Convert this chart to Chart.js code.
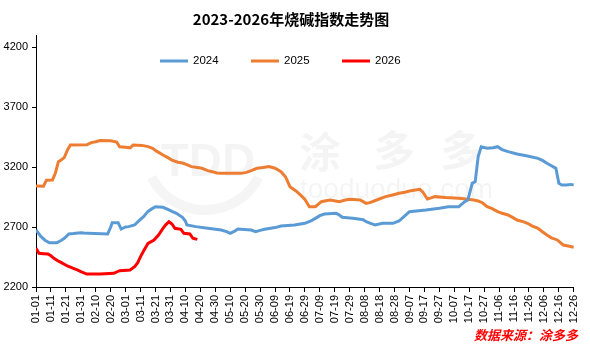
<!DOCTYPE html>
<html>
<head>
<meta charset="utf-8">
<script src="https://cdn.jsdelivr.net/npm/chart.js@4.4.1/dist/chart.umd.min.js"></script>
<style>
  body { margin: 0; background: #fff; }
  canvas { display: block; }
</style>
</head>
<body>
<canvas id="sodaChart" width="590" height="351"></canvas>
<script>
// day-of-year index (0 = 01-01) and index values
var tickLabels = ["01-01","01-11","01-21","01-31","02-10","02-20","03-01","03-11","03-21","03-31",
  "04-10","04-20","04-30","05-10","05-20","05-30","06-09","06-19","06-29","07-09","07-19","07-29",
  "08-08","08-18","08-28","09-07","09-17","09-27","10-07","10-17","10-27","11-06","11-16","11-26",
  "12-06","12-16","12-26"];

var yTicks = [2200, 2700, 3200, 3700, 4200];

var seriesNames = ["2024", "2025", "2026"];

var days2024 = [0,3,6,9,14,17,19,22,25,30,32,35,48,50,51,55,57,60,62,66,69,72,75,78,80,85,89,91,94,98,100,101,107,115,124,128,130,133,135,144,147,150,153,160,164,173,180,184,187,190,193,201,203,205,212,217,219,221,224,227,232,239,243,245,248,250,261,270,276,283,287,289,290,292,294,296,298,302,306,309,312,316,322,329,336,339,342,345,348,350,352,355,358,360];
var values2024 = [2675,2625,2590,2569,2569,2590,2606,2642,2645,2653,2650,2648,2642,2700,2736,2736,2683,2700,2703,2717,2753,2786,2830,2855,2869,2864,2842,2830,2814,2781,2750,2717,2703,2689,2675,2660,2647,2665,2683,2675,2661,2672,2681,2695,2708,2717,2731,2750,2772,2795,2808,2814,2800,2781,2772,2764,2760,2744,2730,2717,2731,2731,2750,2772,2805,2828,2842,2856,2869,2869,2911,2925,2967,3064,3078,3286,3369,3356,3360,3369,3345,3328,3308,3292,3272,3255,3231,3210,3189,3064,3050,3050,3055,3050];

var days2025 = [0,5,7,11,13,15,17,19,21,23,34,37,40,43,50,54,56,60,63,65,71,75,78,81,85,88,91,95,98,101,104,108,111,115,118,121,124,131,137,141,144,148,152,156,160,164,167,170,174,177,180,183,187,191,195,197,203,207,210,217,221,224,228,234,238,243,247,250,254,257,259,262,265,267,274,283,289,293,296,299,302,305,309,312,316,319,322,326,329,332,336,339,342,345,349,351,353,357,360];
var values2025 = [3042,3040,3090,3092,3150,3244,3260,3280,3340,3383,3385,3403,3410,3420,3418,3408,3369,3365,3360,3383,3380,3370,3356,3330,3300,3280,3258,3240,3233,3220,3203,3195,3189,3170,3161,3150,3147,3147,3147,3155,3169,3189,3195,3203,3190,3161,3119,3036,3000,2967,2930,2869,2869,2911,2920,2925,2911,2925,2931,2925,2897,2905,2925,2953,2965,2981,2990,3000,3008,3014,2990,2933,2945,2953,2945,2939,2931,2925,2917,2900,2869,2855,2828,2815,2800,2780,2758,2745,2731,2710,2689,2660,2633,2610,2592,2570,2550,2540,2531];

var days2026 = [0,2,5,8,10,12,15,17,21,25,28,30,34,43,52,56,63,66,68,70,72,75,79,82,85,87,89,91,93,97,99,103,105,108];
var values2026 = [2522,2481,2478,2475,2460,2439,2415,2403,2375,2356,2340,2328,2308,2308,2314,2336,2342,2369,2400,2453,2500,2564,2592,2633,2689,2720,2744,2725,2689,2681,2647,2642,2606,2597];

var colors = ["#5b9bd5", "#ed7d31", "#ff0000"];

function pts(days, vals) {
  return days.map(function (d, i) { return { x: d, y: vals[i] }; });
}

// faint site watermark behind the lines
var watermark = {
  id: 'watermark',
  beforeDatasetsDraw: function (chart) {
    var c = chart.ctx;
    c.save();
    c.fillStyle = 'rgba(0,0,0,0.045)';
    c.strokeStyle = 'rgba(0,0,0,0.04)';
    c.lineWidth = 10;
    c.beginPath();
    c.arc(205, 150, 60, 0.15 * Math.PI, 0.85 * Math.PI);
    c.stroke();
    c.font = 'bold 46px "Liberation Sans"';
    c.textAlign = 'center';
    c.textBaseline = 'middle';
    c.fillText('TDD', 208, 163);
    c.font = 'bold 42px "Noto Sans CJK SC"';
    c.fillText('涂', 320, 152);
    c.fillText('多', 394, 150);
    c.fillText('多', 461, 150);
    c.font = '28px "Liberation Sans"';
    c.textAlign = 'left';
    c.fillText('tooduoduo.com', 300, 190);
    c.restore();
  }
};

// legend sits inside the plot, plus the source note
var extras = {
  id: 'extras',
  afterDraw: function (chart) {
    var c = chart.ctx;
    c.save();
    c.font = '11.5px "Liberation Sans"';
    c.textBaseline = 'middle';
    c.textAlign = 'left';
    chart.data.datasets.forEach(function (ds, i) {
      var x = 160 + i * 91;
      c.strokeStyle = ds.borderColor;
      c.lineWidth = 3;
      c.beginPath();
      c.moveTo(x, 61);
      c.lineTo(x + 28, 61);
      c.stroke();
      c.fillStyle = '#000';
      c.fillText(ds.label, x + 33, 61);
    });
    c.font = 'italic bold 13px "Noto Sans CJK SC"';
    c.fillStyle = '#f00';
    c.textAlign = 'right';
    c.fillText('数据来源：涂多多', 578, 335);
    c.restore();
  }
};

var ctx = document.getElementById('sodaChart').getContext('2d');
var chart = new Chart(ctx, {
  type: 'line',
  data: {
    datasets: [
      { label: seriesNames[0], data: pts(days2024, values2024), borderColor: colors[0] },
      { label: seriesNames[1], data: pts(days2025, values2025), borderColor: colors[1] },
      { label: seriesNames[2], data: pts(days2026, values2026), borderColor: colors[2] }
    ]
  },
  options: {
    responsive: false,
    animation: false,
    layout: { padding: { top: 0, right: 8, left: 0, bottom: 0 } },
    elements: {
      line: { borderWidth: 3, tension: 0, fill: false },
      point: { radius: 0 }
    },
    plugins: {
      legend: { display: false },
      tooltip: { enabled: false },
      title: {
        display: true,
        text: '2023-2026年烧碱指数走势图',
        color: '#000',
        font: { family: '"Noto Sans CJK SC"', size: 15, weight: 'bold' },
        padding: { top: 10, bottom: 7 }
      }
    },
    scales: {
      x: {
        type: 'linear',
        min: 0,
        max: 360,
        afterFit: function (s) { s.height = 64; },
        border: { display: true, color: '#000', width: 1 },
        grid: { display: true, drawOnChartArea: false, drawTicks: true, tickLength: 5, color: '#000' },
        ticks: {
          stepSize: 10,
          autoSkip: false,
          minRotation: 90,
          maxRotation: 90,
          padding: 3,
          color: '#000',
          font: { family: '"Liberation Sans"', size: 11 },
          callback: function (v) { return tickLabels[Math.round(v / 10)]; }
        }
      },
      y: {
        min: 2200,
        max: 4300,
        afterFit: function (s) { s.width = 36; },
        afterBuildTicks: function (s) {
          s.ticks = yTicks.map(function (v) { return { value: v }; });
        },
        border: { display: true, color: '#000', width: 1 },
        grid: { display: true, drawOnChartArea: false, drawTicks: true, tickLength: 4, color: '#000' },
        ticks: {
          padding: 4,
          color: '#000',
          font: { family: '"Liberation Sans"', size: 11 },
          callback: function (v) { return String(v); }
        }
      }
    }
  },
  plugins: [watermark, extras]
});
</script>
</body>
</html>
